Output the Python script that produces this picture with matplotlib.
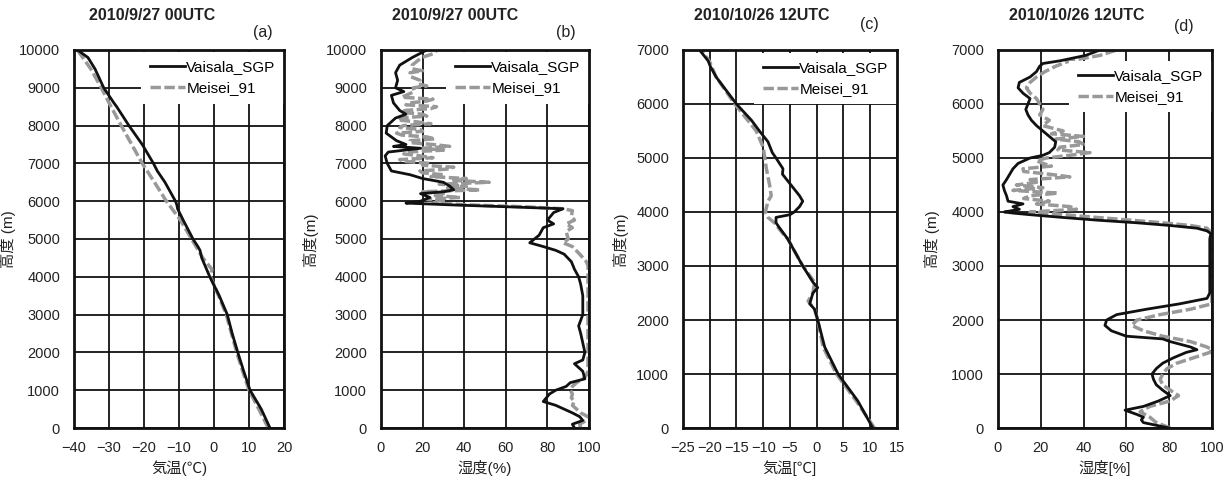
import matplotlib
matplotlib.use("Agg")
import matplotlib.pyplot as plt

plt.rcParams['font.family'] = ['Liberation Sans', 'Noto Sans CJK JP', 'DejaVu Sans']
plt.rcParams['axes.unicode_minus'] = True

# (a) 2010/9/27 00UTC  temperature
a_vai_h = [0, 500, 1000, 1500, 2000, 2500, 3000, 3500, 4000, 4500, 4700, 4800, 5000, 5500,
           5800, 5900, 6000, 6500, 6800, 7000, 7500, 8000, 8500, 8600, 9000, 9500, 9800, 10000]
a_vai_t = [16, 13.5, 10.3, 8.5, 6.8, 5.2, 3.8, 1.5, -1.2, -3.5, -4.0, -4.6, -6.0, -8.8,
           -10.4, -10.6, -11.0, -14.0, -16.2, -17.3, -20.5, -24.3, -27.8, -28.6, -31.5, -34.0, -36.0, -39.0]
a_mei_h = [0, 500, 1000, 1500, 2000, 2500, 3000, 3500, 4000, 4200, 4500, 5000, 5500,
           5700, 6000, 6500, 7000, 7500, 8000, 8500, 9000, 9500, 10000]
a_mei_t = [15.5, 12.8, 10.0, 8.2, 6.5, 5.0, 3.5, 1.3, -1.0, -0.6, -3.2, -6.4, -9.6,
           -11.2, -13.6, -17.0, -20.5, -23.5, -26.5, -29.4, -32.2, -35.2, -39.0]

# (b) 2010/9/27 00UTC  humidity
b_vai_h = [0, 100, 200, 300, 400, 500, 600, 700, 800, 900, 1000, 1100, 1200, 1300, 1500, 1700,
           1800, 2000, 2500, 2700, 3000, 3500, 3800, 4000, 4200, 4400, 4600, 4700, 4800, 4900,
           5100, 5300, 5400, 5500, 5700, 5800, 5850, 5900, 5950, 6000, 6100, 6200, 6250, 6300,
           6400, 6500, 6600, 6700, 6800, 7000, 7200, 7300, 7400, 7450, 7500, 7600, 7800, 8000,
           8200, 8300, 8400, 8600, 8800, 8900, 9000, 9200, 9400, 9600, 9800, 10000]
b_vai_rh = [93, 92, 97, 95.5, 92, 88, 84, 78, 79.5, 81, 84, 89, 91, 98, 97, 93,
            97, 98, 96, 95, 97, 97, 96, 95, 93, 91.5, 88, 84, 78, 71.5,
            76, 78, 83, 80, 83, 87.5, 62, 35, 12, 19, 23.5, 19, 30, 35,
            33, 30, 20, 14, 5, 3, 2, 3.5, 19, 6, 12, 7.5, 2.5, 3,
            7, 12, 9, 6, 5, 11, 7, 8, 7, 9, 15, 22]
b_mei_h = [0, 100, 200, 300, 400, 500, 600, 700, 800, 900, 1000, 1100, 1200, 1300, 1400, 1500,
           2000, 2500, 3000, 3500, 4000, 4300, 4400, 4600, 4800, 4900, 5000, 5200, 5300, 5400,
           5500, 5600, 5750, 5800, 5850, 5900, 5950, 6000, 6050, 6100, 6150, 6200, 6250, 6300,
           6350, 6400, 6450, 6500, 6550, 6600, 6650, 6700, 6750, 6800, 6850, 6900, 6950, 7000,
           7050, 7100, 7150, 7200, 7250, 7300, 7350, 7400, 7450, 7500, 7550, 7600, 7650, 7700,
           7750, 7800, 7850, 7900, 7950, 8000, 8050, 8100, 8150, 8200, 8250, 8300, 8350, 8400,
           8450, 8500, 8550, 8600, 8650, 8700, 8750, 8800, 8900, 9000, 9050, 9100, 9200, 9300,
           9400, 9450, 9500, 9600, 9800, 9900, 10000]
b_mei_rh = [96, 95.5, 98.7, 99.5, 96, 94, 92, 93, 91.5, 92, 91, 92, 94, 97, 98.7, 99.5,
            99.5, 99.5, 99.5, 99.5, 99.5, 99.5, 98.7, 95.5, 92, 87.5, 90, 89, 92, 89,
            93, 91.5, 92, 87.5, 70, 43, 25, 30, 22, 38, 26, 30, 20, 47.5,
            32, 41, 28, 52, 35, 41, 24, 30, 20, 18.7, 32, 35, 20, 23.5,
            12, 9, 25, 18.7, 11, 12, 30, 20, 33, 25, 14, 14, 26, 22,
            10, 7.5, 20, 18.7, 9, 10.7, 24, 17, 8, 9, 22, 20, 10, 11.5,
            24, 26.7, 12, 14, 22, 25, 10, 12, 16, 15.5, 22, 18, 18.7, 14,
            14, 20, 15, 15, 19.5, 25, 27]

# (c) 2010/10/26 12UTC  temperature
c_vai_h = [0, 500, 1000, 1500, 2000, 2200, 2300, 2400, 2500, 2600, 2700, 3000, 3500, 3700,
           3800, 3900, 3950, 4000, 4100, 4200, 4300, 4500, 4700, 4800, 5000, 5100, 5300, 5500,
           5700, 6000, 6500, 6700, 6800, 7000]
c_vai_t = [10.5, 7.7, 4.0, 1.5, 0.2, -0.4, -1.3, -1.0, -0.7, 0.2, -0.7, -2.6, -5.4, -6.9,
           -7.6, -7.6, -5.0, -4.2, -3.2, -2.6, -3.2, -4.8, -6.4, -6.3, -7.6, -8.3, -9.1, -10.7,
           -12.2, -15.0, -18.8, -19.9, -20.3, -21.9]
c_mei_h = [0, 500, 1000, 1500, 2000, 2200, 2350, 2500, 2700, 3000, 3500, 3600, 3800, 3900,
           4000, 4200, 4300, 4500, 4800, 5000, 5200, 5500, 5700, 6000, 6500, 6800, 7000]
c_mei_t = [10.8, 7.4, 3.7, 1.2, 0.2, -0.4, -1.6, -0.7, -0.4, -2.6, -5.4, -6.3, -7.9, -9.1,
           -9.6, -9.1, -8.5, -8.8, -9.4, -9.7, -10.0, -11.3, -12.9, -15.3, -18.8, -20.1, -21.6]

# (d) 2010/10/26 12UTC  humidity
d_vai_h = [0, 50, 100, 150, 200, 250, 330, 400, 500, 600, 700, 800, 900, 1000, 1100, 1200,
           1300, 1400, 1450, 1500, 1600, 1650, 1700, 1800, 1900, 2000, 2100, 2200, 2300, 2400,
           2500, 3000, 3500, 3600, 3650, 3700, 3750, 3800, 3850, 3900, 3950, 3980, 4000, 4050,
           4100, 4150, 4200, 4300, 4400, 4500, 4600, 4700, 4800, 4900, 5000, 5050, 5100, 5200,
           5300, 5400, 5500, 5600, 5700, 5800, 5900, 6000, 6100, 6200, 6300, 6400, 6500, 6600,
           6700, 6750, 6800, 6900, 7000]
d_vai_rh = [80, 74, 68, 67, 68, 65, 59.4, 68, 75, 80.5, 77, 74, 72.7, 72, 74, 77,
            82, 88, 93, 90, 80.5, 77, 60, 53, 50, 50.8, 55.5, 69.5, 85, 97.7,
            99, 99, 99, 99.5, 97.7, 93, 80.5, 65, 46, 30, 15, 7, 3, 10,
            7, 11.7, 4.7, 4, 3, 2.3, 4, 5.5, 7, 9.4, 15, 21, 24, 26.5,
            27, 24, 21, 18, 15.6, 14, 13, 14, 15, 11.7, 9.4, 10, 15, 18,
            19.5, 21, 29, 41, 47.7]
d_mei_h = [0, 100, 200, 300, 400, 500, 600, 700, 800, 900, 1000, 1100, 1200, 1300, 1400, 1450,
           1500, 1600, 1700, 1800, 1900, 2000, 2100, 2200, 2300, 2500, 3000, 3500, 3600, 3700,
           3750, 3800, 3850, 3900, 3950, 4000, 4050, 4100, 4150, 4200, 4250, 4300, 4350, 4400,
           4450, 4500, 4550, 4600, 4650, 4700, 4750, 4800, 4850, 4900, 4950, 5000, 5050, 5100,
           5150, 5200, 5250, 5300, 5350, 5400, 5450, 5500, 5600, 5700, 5800, 5900, 6000, 6100,
           6200, 6300, 6400, 6500, 6600, 6700, 6800, 6900, 7000]
d_mei_rh = [80.5, 74, 71, 66.4, 71, 80.5, 84.4, 80.5, 77, 75.8, 77, 79, 83.6, 91.4, 99, 100,
            97.7, 90, 77, 68, 62.5, 65, 75.8, 90, 100, 100, 100, 100, 100, 97.7,
            90, 77, 61.7, 46, 30.5, 15, 36.7, 33.6, 18, 24, 12, 15, 28, 7,
            21, 8.6, 18, 15, 33.6, 24, 12, 11.7, 25, 21, 18, 22.7, 33.6, 43,
            28, 29, 40, 38, 27, 40, 25, 30.5, 21, 24, 19.5, 21, 19.5, 18,
            15, 13.3, 15, 18, 22, 27, 33.6, 47.7, 55.5]

panels = [
    dict(rect=[0.0601, 0.1157, 0.1706, 0.781], vai=(a_vai_t, a_vai_h), mei=(a_mei_t, a_mei_h),
         xlim=(-40, 20), xticks=range(-40, 21, 10), ylim=(0, 10000), yticks=range(0, 10001, 1000),
         title='2010/9/27 00UTC', tx=152, tag='(a)', gx=263, gy=32, legy=0.995,
         xlabel='気温(℃)', ylabel='高度 (m)', ylx=16),
    dict(rect=[0.3095, 0.1157, 0.1690, 0.781], vai=(b_vai_rh, b_vai_h), mei=(b_mei_rh, b_mei_h),
         xlim=(0, 100), xticks=range(0, 101, 20), ylim=(0, 10000), yticks=range(0, 10001, 1000),
         title='2010/9/27 00UTC', tx=455, tag='(b)', gx=566, gy=32, legy=0.995,
         xlabel='湿度(%)', ylabel='高度(m)', ylx=318),
    dict(rect=[0.5548, 0.1157, 0.1738, 0.781], vai=(c_vai_t, c_vai_h), mei=(c_mei_t, c_mei_h),
         xlim=(-25, 15), xticks=range(-25, 16, 5), ylim=(0, 7000), yticks=range(0, 7001, 1000),
         title='2010/10/26 12UTC', tx=762, tag='(c)', gx=869, gy=25, legy=0.993,
         xlabel='気温[℃]', ylabel='高度(m)', ylx=628),
    dict(rect=[0.8107, 0.1157, 0.1738, 0.781], vai=(d_vai_rh, d_vai_h), mei=(d_mei_rh, d_mei_h),
         xlim=(0, 100), xticks=range(0, 101, 20), ylim=(0, 7000), yticks=range(0, 7001, 1000),
         title='2010/10/26 12UTC', tx=1077, tag='(d)', gx=1184, gy=27, legy=0.972,
         xlabel='湿度[%]', ylabel='高度 (m)', ylx=940),
]

W, H = 1231, 484
fig = plt.figure(figsize=(W / 100, H / 100), dpi=100)

for p in panels:
    ax = fig.add_axes(p['rect'])
    ax.plot(p['vai'][0], p['vai'][1], color='#111111', lw=2.0, label='Vaisala_SGP', zorder=3)
    ax.plot(p['mei'][0], p['mei'][1], color='#999999', lw=2.5, ls=(0, (3, 1)), label='Meisei_91', zorder=2)
    ax.set_xlim(*p['xlim'])
    ax.set_ylim(*p['ylim'])
    ax.set_xticks(list(p['xticks']))
    ax.set_yticks(list(p['yticks']))
    ax.grid(True, color='#111111', lw=1.3)
    ax.set_axisbelow(True)
    for s in ax.spines.values():
        s.set_linewidth(2.0)
        s.set_color('#111111')
        s.set_zorder(6)
    ax.tick_params(length=0, labelsize=10.5, colors='#222222')
    ax.tick_params(axis='y', pad=10)
    ax.tick_params(axis='x', pad=9)
    ax.set_xlabel(p['xlabel'], fontsize=11, color='#222222')
    ax.xaxis.set_label_coords(0.5, -0.085)
    ax.set_ylabel(p['ylabel'], fontsize=11, color='#222222')
    r = p['rect']
    ax.yaxis.set_label_coords((p['ylx'] / W - r[0]) / r[2], 0.5)
    leg = ax.legend(loc='upper right', bbox_to_anchor=(1.0, p['legy']), fontsize=11,
                    frameon=True, fancybox=False, edgecolor='none', framealpha=1,
                    borderaxespad=0.0, borderpad=0.55,
                    handlelength=2.3, handletextpad=0.1, labelspacing=0.45)
    leg.set_zorder(5)
    fig.text(p['tx'] / W, 1 - 15 / H, p['title'], fontsize=11.5, fontweight='bold',
             ha='center', va='center', color='#222222')
    fig.text(p['gx'] / W, 1 - p['gy'] / H, p['tag'], fontsize=11.5, ha='center', va='center',
             color='#222222')

fig.savefig('out.png', dpi=100)
